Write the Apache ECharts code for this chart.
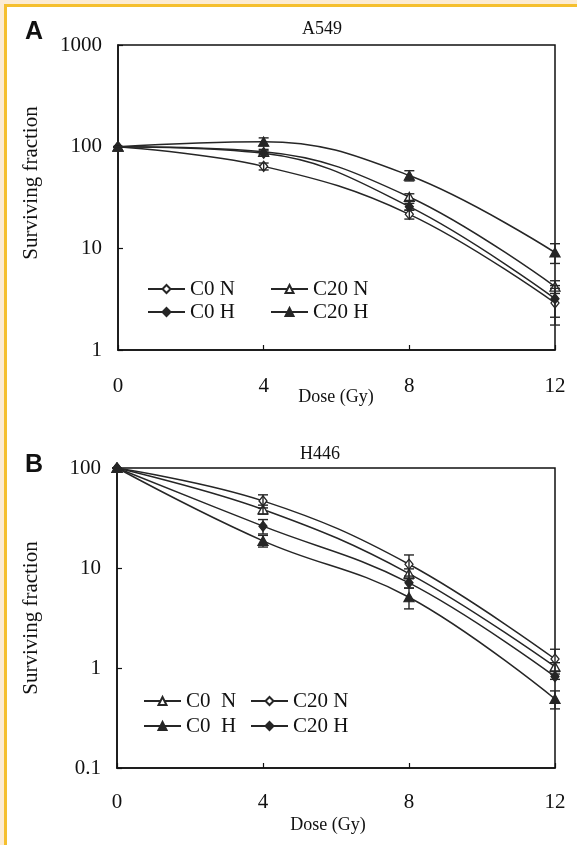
<!DOCTYPE html>
<html>
<head>
<meta charset="utf-8">
<script src="https://cdn.jsdelivr.net/npm/echarts@6/dist/echarts.min.js"></script>
<style>
  body { margin: 0; }
  .frame { position: absolute; left: 0; top: 0; width: 577px; height: 845px; background: #fcebd2; }
  .inner { position: absolute; left: 4px; top: 4px; right: 0; bottom: 0; background: #fff;
           border-left: 3px solid #f5bf2e; border-top: 3px solid #f5bf2e; }
  #chart { position: absolute; left: 0; top: 0; width: 577px; height: 845px; }
</style>
</head>
<body>
<div class="frame"><div class="inner"></div></div>
<div id="chart"></div>
<script>
const doses = [0, 4, 8, 12];

// A549 (panel A)
const aC0N = [100, 64, 21.6, 2.9];
const aC20N = [100, 89, 32, 4.2];
const aC0H = [100, 86, 25.7, 3.2];
const aC20H = [100, 112, 52, 9.1];
const aC0NErr = [0, 5, 2.2, 1.14];
const aC20NErr = [0, 5, 2.4, 0.6];
const aC0HErr = [0, 5, 2, 1.1];
const aC20HErr = [0, 10, 6, 2];

// H446 (panel B)
const bC0N = [100, 38.5, 8.8, 1.03];
const bC20N = [100, 46.9, 10.9, 1.23];
const bC0H = [100, 18.7, 5.1, 0.49];
const bC20H = [100, 26.2, 7.1, 0.82];
const bC0NErr = [0, 4, 1, 0.1];
const bC20NErr = [0, 7, 2.6, 0.31];
const bC0HErr = [0, 2.5, 1.2, 0.1];
const bC20HErr = [0, 4.3, 0.8, 0.05];

const aTicks = [1, 10, 100, 1000];
const bTicks = [0.1, 1, 10, 100];

const ink = "#262626";
const serif = "'Liberation Serif', 'Times New Roman', serif";

function line(name, vals, g, symbol, filled) {
  let size = symbol == "triangle" ? [10, 9] : [8, 10];
  return {
    name: name,
    type: "line",
    xAxisIndex: g,
    yAxisIndex: g,
    smooth: 0.4,
    symbol: symbol,
    symbolSize: size,
    showSymbol: true,
    lineStyle: { color: ink, width: 1.5 },
    itemStyle: { color: filled ? ink : "#fff", borderColor: ink, borderWidth: 1.3 },
    data: doses.map((d, i) => [d, vals[i]]),
    z: 3
  };
}

function errBars(vals, err, g) {
  return {
    type: "custom",
    xAxisIndex: g,
    yAxisIndex: g,
    silent: true,
    z: 4,
    renderItem: function (params, api) {
      let top = api.coord([api.value(0), api.value(2)]);
      let bot = api.coord([api.value(0), api.value(1)]);
      let w = 5;
      let st = { stroke: ink, lineWidth: 1.4 };
      return {
        type: "group",
        children: [
          { type: "line", shape: { x1: top[0], y1: top[1], x2: bot[0], y2: bot[1] }, style: st },
          { type: "line", shape: { x1: top[0] - w, y1: top[1], x2: top[0] + w, y2: top[1] }, style: st },
          { type: "line", shape: { x1: bot[0] - w, y1: bot[1], x2: bot[0] + w, y2: bot[1] }, style: st }
        ]
      };
    },
    data: doses.map((d, i) => [d, vals[i] - err[i], vals[i] + err[i]])
  };
}

function xAxis(g) {
  return {
    type: "value",
    gridIndex: g,
    min: 0,
    max: 12,
    interval: 4,
    axisLine: { lineStyle: { color: "#111", width: 1.5 } },
    axisTick: { inside: true, length: 5, lineStyle: { color: "#111", width: 1.2 } },
    axisLabel: { color: "#111", fontFamily: serif, fontSize: 21, margin: g == 0 ? 26 : 24 },
    splitLine: { show: false }
  };
}

function yAxis(g, ticks) {
  return {
    type: "log",
    logBase: 10,
    gridIndex: g,
    min: ticks[0],
    max: ticks[ticks.length - 1],
    axisLine: { show: true, lineStyle: { color: "#111", width: 1.5 } },
    axisTick: { show: true, inside: true, length: 5, lineStyle: { color: "#111", width: 1.2 } },
    axisLabel: { color: "#111", fontFamily: serif, fontSize: 21, margin: 16, formatter: v => String(v) },
    minorTick: { show: false },
    splitLine: { show: false }
  };
}

function legend(names, left, top, gap) {
  return {
    data: names,
    orient: "vertical",
    left: left,
    top: top,
    padding: 0,
    itemWidth: 37,
    itemHeight: 10,
    itemGap: gap,
    selectedMode: false,
    textStyle: { color: "#111", fontFamily: serif, fontSize: 21, lineHeight: 22 }
  };
}

function label(text, x, y, size, opts) {
  return {
    type: "text",
    x: x,
    y: y,
    rotation: (opts && opts.rot) || 0,
    style: {
      text: text,
      fill: "#111",
      font: ((opts && opts.bold) ? "bold " : "") + size + "px " + ((opts && opts.sans) ? "'Liberation Sans', Arial, sans-serif" : serif),
      align: "center",
      verticalAlign: "middle"
    }
  };
}

let chart = echarts.init(document.getElementById("chart"));

chart.setOption({
  backgroundColor: "transparent",
  animation: false,
  grid: [
    { left: 118, top: 45, width: 437, height: 305, show: true, borderColor: "#111", borderWidth: 1.5 },
    { left: 117, top: 468, width: 438, height: 300, show: true, borderColor: "#111", borderWidth: 1.5 }
  ],
  xAxis: [xAxis(0), xAxis(1)],
  yAxis: [yAxis(0, aTicks), yAxis(1, bTicks)],
  legend: [
    legend(["C0 N", "C0 H"], 147, 278, 1),
    legend(["C20 N", "C20 H"], 270, 278, 1),
    legend(["C0  N", "C0  H"], 143, 690, 3),
    legend(["C20 N ", "C20 H "], 250, 690, 3)
  ],
  graphic: [
    label("A", 34, 32, 25, { bold: true, sans: true }),
    label("B", 34, 465, 25, { bold: true, sans: true }),
    label("A549", 322, 29, 18),
    label("H446", 320, 454, 18),
    label("Surviving fraction", 31, 183, 21, { rot: Math.PI / 2 }),
    label("Surviving fraction", 31, 618, 21, { rot: Math.PI / 2 }),
    label("Dose (Gy)", 336, 397, 18),
    label("Dose (Gy)", 328, 825, 18)
  ],
  series: [
    line("C0 N", aC0N, 0, "diamond", false),
    line("C20 N", aC20N, 0, "triangle", false),
    line("C0 H", aC0H, 0, "diamond", true),
    line("C20 H", aC20H, 0, "triangle", true),
    errBars(aC0N, aC0NErr, 0),
    errBars(aC20N, aC20NErr, 0),
    errBars(aC0H, aC0HErr, 0),
    errBars(aC20H, aC20HErr, 0),
    line("C0  N", bC0N, 1, "triangle", false),
    line("C20 N ", bC20N, 1, "diamond", false),
    line("C0  H", bC0H, 1, "triangle", true),
    line("C20 H ", bC20H, 1, "diamond", true),
    errBars(bC0N, bC0NErr, 1),
    errBars(bC20N, bC20NErr, 1),
    errBars(bC0H, bC0HErr, 1),
    errBars(bC20H, bC20HErr, 1)
  ]
});
</script>
</body>
</html>
